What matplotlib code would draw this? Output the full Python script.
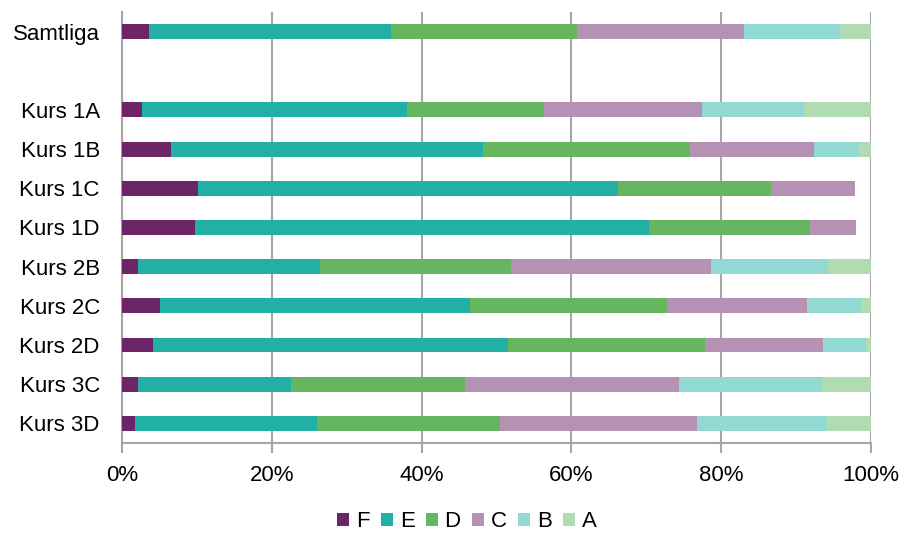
import numpy as np
import matplotlib
matplotlib.use("Agg")
import matplotlib.pyplot as plt

plt.rcParams["font.family"] = ["Liberation Sans", "DejaVu Sans"]

kurser = ["Samtliga", "", "Kurs 1A", "Kurs 1B", "Kurs 1C", "Kurs 1D",
          "Kurs 2B", "Kurs 2C", "Kurs 2D", "Kurs 3C", "Kurs 3D"]
betyg = ["F", "E", "D", "C", "B", "A"]
farger = ["#6B2568", "#22B0A5", "#66B560", "#B591B4", "#91D9D2", "#B1DBB0"]

# andel per betyg (%), tom rad = mellanrum
F = [3.6, 0, 2.7, 6.5, 10.2, 9.7, 2.2, 5.1, 4.2, 2.2, 1.8]
E = [32.3, 0, 35.3, 41.7, 56.0, 60.6, 24.2, 41.3, 47.3, 20.4, 24.2]
D = [24.8, 0, 18.3, 27.6, 20.5, 21.6, 25.6, 26.3, 26.3, 23.2, 24.5]
C = [22.4, 0, 21.1, 16.6, 11.2, 6.1, 26.6, 18.7, 15.8, 28.5, 26.3]
B = [12.7, 0, 13.6, 6.0, 0, 0, 15.7, 7.2, 5.7, 19.1, 17.3]
A = [4.2, 0, 9.0, 1.6, 0, 0, 5.7, 1.4, 0.7, 6.6, 5.9]
serier = [F, E, D, C, B, A]

fig = plt.figure(figsize=(9.03, 5.33), dpi=100)
ax = fig.add_axes([0.1351, 0.1689, 0.8295, 0.8086])

y = np.arange(len(kurser))
vanster = np.zeros(len(kurser))
for namn, vals, farg in zip(betyg, serier, farger):
    vals = np.array(vals) / 100
    ax.barh(y, vals, left=vanster, height=0.38, color=farg, label=namn,
            linewidth=0, zorder=3)
    vanster += vals

ax.set_xlim(0, 1)
ax.set_ylim(len(kurser) - 0.5, -0.5)
ax.set_xticks(np.linspace(0, 1, 6))
ax.set_xticklabels([f"{int(v)}%" for v in np.linspace(0, 100, 6)])
ax.set_yticks(y)
ax.set_yticklabels(kurser)
ax.tick_params(axis="y", length=0, pad=16, labelsize=16)
ax.tick_params(axis="x", length=7, width=1.5, color="#A6A6A6", pad=9, labelsize=16)

ax.grid(axis="x", color="#A6A6A6", linewidth=1.5, zorder=0)
for s in ["top", "right"]:
    ax.spines[s].set_visible(False)
ax.spines["left"].set_color("#A6A6A6")
ax.spines["left"].set_linewidth(1.5)
ax.spines["bottom"].set_color("#A6A6A6")
ax.spines["bottom"].set_linewidth(1.5)

fig.legend(loc="center", bbox_to_anchor=(0.517, 0.021), ncol=6, frameon=False,
           fontsize=16, handlelength=0.55, handleheight=0.55, handletextpad=0.3,
           columnspacing=0.5)

fig.savefig("out.png", dpi=100)
